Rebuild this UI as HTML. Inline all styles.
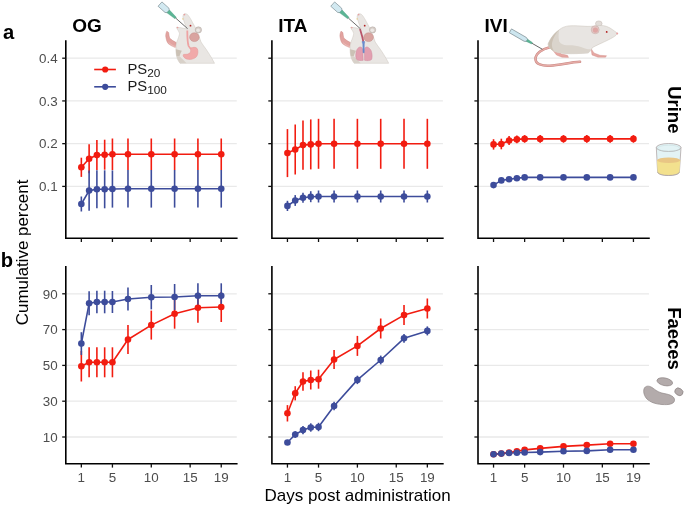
<!DOCTYPE html>
<html><head><meta charset="utf-8"><style>
html,body{margin:0;padding:0;background:#fff;}
svg{display:block;font-family:"Liberation Sans", sans-serif;will-change:transform;}
</style></head><body>
<svg width="685" height="507" viewBox="0 0 685 507">
<rect width="685" height="507" fill="#fff"/>
<line x1="65.8" y1="58.2" x2="236.78" y2="58.2" stroke="#e9e9e9" stroke-width="1.3"/>
<line x1="65.8" y1="100.93" x2="236.78" y2="100.93" stroke="#e9e9e9" stroke-width="1.3"/>
<line x1="65.8" y1="143.67" x2="236.78" y2="143.67" stroke="#e9e9e9" stroke-width="1.3"/>
<line x1="65.8" y1="186.4" x2="236.78" y2="186.4" stroke="#e9e9e9" stroke-width="1.3"/>
<line x1="81.34" y1="157.7" x2="81.34" y2="176.9" stroke="#f21c10" stroke-width="1.6"/>
<line x1="89.12" y1="144.2" x2="89.12" y2="173.2" stroke="#f21c10" stroke-width="1.6"/>
<line x1="96.89" y1="140.1" x2="96.89" y2="170.1" stroke="#f21c10" stroke-width="1.6"/>
<line x1="104.66" y1="139.7" x2="104.66" y2="169.7" stroke="#f21c10" stroke-width="1.6"/>
<line x1="112.43" y1="138.5" x2="112.43" y2="170.1" stroke="#f21c10" stroke-width="1.6"/>
<line x1="127.98" y1="138.5" x2="127.98" y2="170.1" stroke="#f21c10" stroke-width="1.6"/>
<line x1="151.29" y1="138.5" x2="151.29" y2="170.1" stroke="#f21c10" stroke-width="1.6"/>
<line x1="174.61" y1="138.5" x2="174.61" y2="170.1" stroke="#f21c10" stroke-width="1.6"/>
<line x1="197.92" y1="138.5" x2="197.92" y2="170.1" stroke="#f21c10" stroke-width="1.6"/>
<line x1="221.24" y1="138.5" x2="221.24" y2="170.1" stroke="#f21c10" stroke-width="1.6"/>
<line x1="81.34" y1="196.5" x2="81.34" y2="211.5" stroke="#3d4c9b" stroke-width="1.6"/>
<line x1="89.12" y1="170.4" x2="89.12" y2="210.8" stroke="#3d4c9b" stroke-width="1.6"/>
<line x1="96.89" y1="170.3" x2="96.89" y2="208.3" stroke="#3d4c9b" stroke-width="1.6"/>
<line x1="104.66" y1="170.3" x2="104.66" y2="208.3" stroke="#3d4c9b" stroke-width="1.6"/>
<line x1="112.43" y1="170.4" x2="112.43" y2="207.6" stroke="#3d4c9b" stroke-width="1.6"/>
<line x1="127.98" y1="170" x2="127.98" y2="207.6" stroke="#3d4c9b" stroke-width="1.6"/>
<line x1="151.29" y1="170" x2="151.29" y2="207.6" stroke="#3d4c9b" stroke-width="1.6"/>
<line x1="174.61" y1="170" x2="174.61" y2="207.6" stroke="#3d4c9b" stroke-width="1.6"/>
<line x1="197.92" y1="170" x2="197.92" y2="207.6" stroke="#3d4c9b" stroke-width="1.6"/>
<line x1="221.24" y1="170" x2="221.24" y2="207.6" stroke="#3d4c9b" stroke-width="1.6"/>
<polyline points="81.34,167.3 89.12,158.7 96.89,155.1 104.66,154.7 112.43,154.3 127.98,154.3 151.29,154.3 174.61,154.3 197.92,154.3 221.24,154.3" fill="none" stroke="#f21c10" stroke-width="1.6" stroke-linejoin="round"/>
<polyline points="81.34,204 89.12,190.6 96.89,189.3 104.66,189.3 112.43,189 127.98,188.8 151.29,188.8 174.61,188.8 197.92,188.8 221.24,188.8" fill="none" stroke="#3d4c9b" stroke-width="1.6" stroke-linejoin="round"/>
<circle cx="81.34" cy="167.3" r="3.3" fill="#f21c10"/>
<circle cx="89.12" cy="158.7" r="3.3" fill="#f21c10"/>
<circle cx="96.89" cy="155.1" r="3.3" fill="#f21c10"/>
<circle cx="104.66" cy="154.7" r="3.3" fill="#f21c10"/>
<circle cx="112.43" cy="154.3" r="3.3" fill="#f21c10"/>
<circle cx="127.98" cy="154.3" r="3.3" fill="#f21c10"/>
<circle cx="151.29" cy="154.3" r="3.3" fill="#f21c10"/>
<circle cx="174.61" cy="154.3" r="3.3" fill="#f21c10"/>
<circle cx="197.92" cy="154.3" r="3.3" fill="#f21c10"/>
<circle cx="221.24" cy="154.3" r="3.3" fill="#f21c10"/>
<circle cx="81.34" cy="204" r="3.3" fill="#3d4c9b"/>
<circle cx="89.12" cy="190.6" r="3.3" fill="#3d4c9b"/>
<circle cx="96.89" cy="189.3" r="3.3" fill="#3d4c9b"/>
<circle cx="104.66" cy="189.3" r="3.3" fill="#3d4c9b"/>
<circle cx="112.43" cy="189" r="3.3" fill="#3d4c9b"/>
<circle cx="127.98" cy="188.8" r="3.3" fill="#3d4c9b"/>
<circle cx="151.29" cy="188.8" r="3.3" fill="#3d4c9b"/>
<circle cx="174.61" cy="188.8" r="3.3" fill="#3d4c9b"/>
<circle cx="197.92" cy="188.8" r="3.3" fill="#3d4c9b"/>
<circle cx="221.24" cy="188.8" r="3.3" fill="#3d4c9b"/>
<path d="M65.8 41.1 V238.2 H236.78" fill="none" stroke="#000" stroke-width="1.6" stroke-linecap="square"/>
<line x1="62.2" y1="58.2" x2="65.8" y2="58.2" stroke="#111" stroke-width="1.3"/>
<line x1="62.2" y1="100.93" x2="65.8" y2="100.93" stroke="#111" stroke-width="1.3"/>
<line x1="62.2" y1="143.67" x2="65.8" y2="143.67" stroke="#111" stroke-width="1.3"/>
<line x1="62.2" y1="186.4" x2="65.8" y2="186.4" stroke="#111" stroke-width="1.3"/>
<line x1="81.34" y1="238.2" x2="81.34" y2="242" stroke="#111" stroke-width="1.3"/>
<line x1="112.43" y1="238.2" x2="112.43" y2="242" stroke="#111" stroke-width="1.3"/>
<line x1="151.29" y1="238.2" x2="151.29" y2="242" stroke="#111" stroke-width="1.3"/>
<line x1="190.15" y1="238.2" x2="190.15" y2="242" stroke="#111" stroke-width="1.3"/>
<line x1="221.24" y1="238.2" x2="221.24" y2="242" stroke="#111" stroke-width="1.3"/>
<line x1="271.9" y1="58.2" x2="442.88" y2="58.2" stroke="#e9e9e9" stroke-width="1.3"/>
<line x1="271.9" y1="100.93" x2="442.88" y2="100.93" stroke="#e9e9e9" stroke-width="1.3"/>
<line x1="271.9" y1="143.67" x2="442.88" y2="143.67" stroke="#e9e9e9" stroke-width="1.3"/>
<line x1="271.9" y1="186.4" x2="442.88" y2="186.4" stroke="#e9e9e9" stroke-width="1.3"/>
<line x1="287.44" y1="129.1" x2="287.44" y2="177.1" stroke="#f21c10" stroke-width="1.6"/>
<line x1="295.22" y1="124.5" x2="295.22" y2="174.5" stroke="#f21c10" stroke-width="1.6"/>
<line x1="302.99" y1="120.5" x2="302.99" y2="169.7" stroke="#f21c10" stroke-width="1.6"/>
<line x1="310.76" y1="119.4" x2="310.76" y2="169.4" stroke="#f21c10" stroke-width="1.6"/>
<line x1="318.53" y1="118.8" x2="318.53" y2="168.8" stroke="#f21c10" stroke-width="1.6"/>
<line x1="334.08" y1="118.8" x2="334.08" y2="168.8" stroke="#f21c10" stroke-width="1.6"/>
<line x1="357.39" y1="118.8" x2="357.39" y2="168.8" stroke="#f21c10" stroke-width="1.6"/>
<line x1="380.71" y1="118.8" x2="380.71" y2="168.8" stroke="#f21c10" stroke-width="1.6"/>
<line x1="404.02" y1="118.8" x2="404.02" y2="168.8" stroke="#f21c10" stroke-width="1.6"/>
<line x1="427.34" y1="118.8" x2="427.34" y2="168.8" stroke="#f21c10" stroke-width="1.6"/>
<line x1="287.44" y1="200.8" x2="287.44" y2="211" stroke="#3d4c9b" stroke-width="1.6"/>
<line x1="295.22" y1="195.1" x2="295.22" y2="205.9" stroke="#3d4c9b" stroke-width="1.6"/>
<line x1="302.99" y1="192.7" x2="302.99" y2="202.7" stroke="#3d4c9b" stroke-width="1.6"/>
<line x1="310.76" y1="191.2" x2="310.76" y2="202.2" stroke="#3d4c9b" stroke-width="1.6"/>
<line x1="318.53" y1="190.5" x2="318.53" y2="202.5" stroke="#3d4c9b" stroke-width="1.6"/>
<line x1="334.08" y1="190.5" x2="334.08" y2="202.5" stroke="#3d4c9b" stroke-width="1.6"/>
<line x1="357.39" y1="190.5" x2="357.39" y2="202.5" stroke="#3d4c9b" stroke-width="1.6"/>
<line x1="380.71" y1="190.5" x2="380.71" y2="202.5" stroke="#3d4c9b" stroke-width="1.6"/>
<line x1="404.02" y1="190.5" x2="404.02" y2="202.5" stroke="#3d4c9b" stroke-width="1.6"/>
<line x1="427.34" y1="190.5" x2="427.34" y2="202.5" stroke="#3d4c9b" stroke-width="1.6"/>
<polyline points="287.44,153.1 295.22,149.5 302.99,145.1 310.76,144.4 318.53,143.8 334.08,143.8 357.39,143.8 380.71,143.8 404.02,143.8 427.34,143.8" fill="none" stroke="#f21c10" stroke-width="1.6" stroke-linejoin="round"/>
<polyline points="287.44,205.9 295.22,200.5 302.99,197.7 310.76,196.7 318.53,196.5 334.08,196.5 357.39,196.5 380.71,196.5 404.02,196.5 427.34,196.5" fill="none" stroke="#3d4c9b" stroke-width="1.6" stroke-linejoin="round"/>
<circle cx="287.44" cy="153.1" r="3.3" fill="#f21c10"/>
<circle cx="295.22" cy="149.5" r="3.3" fill="#f21c10"/>
<circle cx="302.99" cy="145.1" r="3.3" fill="#f21c10"/>
<circle cx="310.76" cy="144.4" r="3.3" fill="#f21c10"/>
<circle cx="318.53" cy="143.8" r="3.3" fill="#f21c10"/>
<circle cx="334.08" cy="143.8" r="3.3" fill="#f21c10"/>
<circle cx="357.39" cy="143.8" r="3.3" fill="#f21c10"/>
<circle cx="380.71" cy="143.8" r="3.3" fill="#f21c10"/>
<circle cx="404.02" cy="143.8" r="3.3" fill="#f21c10"/>
<circle cx="427.34" cy="143.8" r="3.3" fill="#f21c10"/>
<circle cx="287.44" cy="205.9" r="3.3" fill="#3d4c9b"/>
<circle cx="295.22" cy="200.5" r="3.3" fill="#3d4c9b"/>
<circle cx="302.99" cy="197.7" r="3.3" fill="#3d4c9b"/>
<circle cx="310.76" cy="196.7" r="3.3" fill="#3d4c9b"/>
<circle cx="318.53" cy="196.5" r="3.3" fill="#3d4c9b"/>
<circle cx="334.08" cy="196.5" r="3.3" fill="#3d4c9b"/>
<circle cx="357.39" cy="196.5" r="3.3" fill="#3d4c9b"/>
<circle cx="380.71" cy="196.5" r="3.3" fill="#3d4c9b"/>
<circle cx="404.02" cy="196.5" r="3.3" fill="#3d4c9b"/>
<circle cx="427.34" cy="196.5" r="3.3" fill="#3d4c9b"/>
<path d="M271.9 41.1 V238.2 H442.88" fill="none" stroke="#000" stroke-width="1.6" stroke-linecap="square"/>
<line x1="268.3" y1="58.2" x2="271.9" y2="58.2" stroke="#111" stroke-width="1.3"/>
<line x1="268.3" y1="100.93" x2="271.9" y2="100.93" stroke="#111" stroke-width="1.3"/>
<line x1="268.3" y1="143.67" x2="271.9" y2="143.67" stroke="#111" stroke-width="1.3"/>
<line x1="268.3" y1="186.4" x2="271.9" y2="186.4" stroke="#111" stroke-width="1.3"/>
<line x1="287.44" y1="238.2" x2="287.44" y2="242" stroke="#111" stroke-width="1.3"/>
<line x1="318.53" y1="238.2" x2="318.53" y2="242" stroke="#111" stroke-width="1.3"/>
<line x1="357.39" y1="238.2" x2="357.39" y2="242" stroke="#111" stroke-width="1.3"/>
<line x1="396.25" y1="238.2" x2="396.25" y2="242" stroke="#111" stroke-width="1.3"/>
<line x1="427.34" y1="238.2" x2="427.34" y2="242" stroke="#111" stroke-width="1.3"/>
<line x1="478" y1="58.2" x2="648.98" y2="58.2" stroke="#e9e9e9" stroke-width="1.3"/>
<line x1="478" y1="100.93" x2="648.98" y2="100.93" stroke="#e9e9e9" stroke-width="1.3"/>
<line x1="478" y1="143.67" x2="648.98" y2="143.67" stroke="#e9e9e9" stroke-width="1.3"/>
<line x1="478" y1="186.4" x2="648.98" y2="186.4" stroke="#e9e9e9" stroke-width="1.3"/>
<line x1="493.54" y1="139.2" x2="493.54" y2="149.6" stroke="#f21c10" stroke-width="1.6"/>
<line x1="501.32" y1="138.7" x2="501.32" y2="149.3" stroke="#f21c10" stroke-width="1.6"/>
<line x1="509.09" y1="136" x2="509.09" y2="145" stroke="#f21c10" stroke-width="1.6"/>
<line x1="516.86" y1="135.6" x2="516.86" y2="143.2" stroke="#f21c10" stroke-width="1.6"/>
<line x1="524.63" y1="135.1" x2="524.63" y2="142.7" stroke="#f21c10" stroke-width="1.6"/>
<line x1="540.18" y1="135.1" x2="540.18" y2="142.7" stroke="#f21c10" stroke-width="1.6"/>
<line x1="563.49" y1="135.1" x2="563.49" y2="142.7" stroke="#f21c10" stroke-width="1.6"/>
<line x1="586.81" y1="135.1" x2="586.81" y2="142.7" stroke="#f21c10" stroke-width="1.6"/>
<line x1="610.12" y1="135.1" x2="610.12" y2="142.7" stroke="#f21c10" stroke-width="1.6"/>
<line x1="633.44" y1="135.1" x2="633.44" y2="142.7" stroke="#f21c10" stroke-width="1.6"/>
<polyline points="493.54,144.4 501.32,144 509.09,140.5 516.86,139.4 524.63,138.9 540.18,138.9 563.49,138.9 586.81,138.9 610.12,138.9 633.44,138.9" fill="none" stroke="#f21c10" stroke-width="1.6" stroke-linejoin="round"/>
<polyline points="493.54,185.1 501.32,180.4 509.09,179.3 516.86,178.2 524.63,177.4 540.18,177.4 563.49,177.4 586.81,177.4 610.12,177.4 633.44,177.4" fill="none" stroke="#3d4c9b" stroke-width="1.6" stroke-linejoin="round"/>
<circle cx="493.54" cy="144.4" r="3.3" fill="#f21c10"/>
<circle cx="501.32" cy="144" r="3.3" fill="#f21c10"/>
<circle cx="509.09" cy="140.5" r="3.3" fill="#f21c10"/>
<circle cx="516.86" cy="139.4" r="3.3" fill="#f21c10"/>
<circle cx="524.63" cy="138.9" r="3.3" fill="#f21c10"/>
<circle cx="540.18" cy="138.9" r="3.3" fill="#f21c10"/>
<circle cx="563.49" cy="138.9" r="3.3" fill="#f21c10"/>
<circle cx="586.81" cy="138.9" r="3.3" fill="#f21c10"/>
<circle cx="610.12" cy="138.9" r="3.3" fill="#f21c10"/>
<circle cx="633.44" cy="138.9" r="3.3" fill="#f21c10"/>
<circle cx="493.54" cy="185.1" r="3.3" fill="#3d4c9b"/>
<circle cx="501.32" cy="180.4" r="3.3" fill="#3d4c9b"/>
<circle cx="509.09" cy="179.3" r="3.3" fill="#3d4c9b"/>
<circle cx="516.86" cy="178.2" r="3.3" fill="#3d4c9b"/>
<circle cx="524.63" cy="177.4" r="3.3" fill="#3d4c9b"/>
<circle cx="540.18" cy="177.4" r="3.3" fill="#3d4c9b"/>
<circle cx="563.49" cy="177.4" r="3.3" fill="#3d4c9b"/>
<circle cx="586.81" cy="177.4" r="3.3" fill="#3d4c9b"/>
<circle cx="610.12" cy="177.4" r="3.3" fill="#3d4c9b"/>
<circle cx="633.44" cy="177.4" r="3.3" fill="#3d4c9b"/>
<path d="M478 41.1 V238.2 H648.98" fill="none" stroke="#000" stroke-width="1.6" stroke-linecap="square"/>
<line x1="474.4" y1="58.2" x2="478" y2="58.2" stroke="#111" stroke-width="1.3"/>
<line x1="474.4" y1="100.93" x2="478" y2="100.93" stroke="#111" stroke-width="1.3"/>
<line x1="474.4" y1="143.67" x2="478" y2="143.67" stroke="#111" stroke-width="1.3"/>
<line x1="474.4" y1="186.4" x2="478" y2="186.4" stroke="#111" stroke-width="1.3"/>
<line x1="493.54" y1="238.2" x2="493.54" y2="242" stroke="#111" stroke-width="1.3"/>
<line x1="524.63" y1="238.2" x2="524.63" y2="242" stroke="#111" stroke-width="1.3"/>
<line x1="563.49" y1="238.2" x2="563.49" y2="242" stroke="#111" stroke-width="1.3"/>
<line x1="602.35" y1="238.2" x2="602.35" y2="242" stroke="#111" stroke-width="1.3"/>
<line x1="633.44" y1="238.2" x2="633.44" y2="242" stroke="#111" stroke-width="1.3"/>
<text x="57.7" y="62.95" font-size="13.4" fill="#4d4d4d" text-anchor="end">0.4</text>
<text x="57.7" y="105.68" font-size="13.4" fill="#4d4d4d" text-anchor="end">0.3</text>
<text x="57.7" y="148.42" font-size="13.4" fill="#4d4d4d" text-anchor="end">0.2</text>
<text x="57.7" y="191.15" font-size="13.4" fill="#4d4d4d" text-anchor="end">0.1</text>
<line x1="65.8" y1="293.8" x2="236.78" y2="293.8" stroke="#e9e9e9" stroke-width="1.3"/>
<line x1="65.8" y1="329.6" x2="236.78" y2="329.6" stroke="#e9e9e9" stroke-width="1.3"/>
<line x1="65.8" y1="365.4" x2="236.78" y2="365.4" stroke="#e9e9e9" stroke-width="1.3"/>
<line x1="65.8" y1="401.2" x2="236.78" y2="401.2" stroke="#e9e9e9" stroke-width="1.3"/>
<line x1="65.8" y1="437" x2="236.78" y2="437" stroke="#e9e9e9" stroke-width="1.3"/>
<line x1="81.34" y1="350.9" x2="81.34" y2="381.5" stroke="#f21c10" stroke-width="1.6"/>
<line x1="89.12" y1="347.3" x2="89.12" y2="377.3" stroke="#f21c10" stroke-width="1.6"/>
<line x1="96.89" y1="347.3" x2="96.89" y2="377.3" stroke="#f21c10" stroke-width="1.6"/>
<line x1="104.66" y1="347.3" x2="104.66" y2="377.3" stroke="#f21c10" stroke-width="1.6"/>
<line x1="112.43" y1="347.3" x2="112.43" y2="377.3" stroke="#f21c10" stroke-width="1.6"/>
<line x1="127.98" y1="325" x2="127.98" y2="354" stroke="#f21c10" stroke-width="1.6"/>
<line x1="151.29" y1="310.6" x2="151.29" y2="339.6" stroke="#f21c10" stroke-width="1.6"/>
<line x1="174.61" y1="298.7" x2="174.61" y2="328.7" stroke="#f21c10" stroke-width="1.6"/>
<line x1="197.92" y1="292.7" x2="197.92" y2="322.7" stroke="#f21c10" stroke-width="1.6"/>
<line x1="221.24" y1="292" x2="221.24" y2="322" stroke="#f21c10" stroke-width="1.6"/>
<line x1="81.34" y1="332.2" x2="81.34" y2="355" stroke="#3d4c9b" stroke-width="1.6"/>
<line x1="89.12" y1="291.3" x2="89.12" y2="315.3" stroke="#3d4c9b" stroke-width="1.6"/>
<line x1="96.89" y1="290.7" x2="96.89" y2="313.3" stroke="#3d4c9b" stroke-width="1.6"/>
<line x1="104.66" y1="290.7" x2="104.66" y2="313.3" stroke="#3d4c9b" stroke-width="1.6"/>
<line x1="112.43" y1="291" x2="112.43" y2="313" stroke="#3d4c9b" stroke-width="1.6"/>
<line x1="127.98" y1="287.4" x2="127.98" y2="310.6" stroke="#3d4c9b" stroke-width="1.6"/>
<line x1="151.29" y1="285" x2="151.29" y2="309.4" stroke="#3d4c9b" stroke-width="1.6"/>
<line x1="174.61" y1="284" x2="174.61" y2="310" stroke="#3d4c9b" stroke-width="1.6"/>
<line x1="197.92" y1="283.3" x2="197.92" y2="308.3" stroke="#3d4c9b" stroke-width="1.6"/>
<line x1="221.24" y1="283.3" x2="221.24" y2="308.3" stroke="#3d4c9b" stroke-width="1.6"/>
<polyline points="81.34,366.2 89.12,362.3 96.89,362.3 104.66,362.3 112.43,362.3 127.98,339.5 151.29,325.1 174.61,313.7 197.92,307.7 221.24,307" fill="none" stroke="#f21c10" stroke-width="1.6" stroke-linejoin="round"/>
<polyline points="81.34,343.6 89.12,303.3 96.89,302 104.66,302 112.43,302 127.98,299 151.29,297.2 174.61,297 197.92,295.8 221.24,295.8" fill="none" stroke="#3d4c9b" stroke-width="1.6" stroke-linejoin="round"/>
<circle cx="81.34" cy="366.2" r="3.3" fill="#f21c10"/>
<circle cx="89.12" cy="362.3" r="3.3" fill="#f21c10"/>
<circle cx="96.89" cy="362.3" r="3.3" fill="#f21c10"/>
<circle cx="104.66" cy="362.3" r="3.3" fill="#f21c10"/>
<circle cx="112.43" cy="362.3" r="3.3" fill="#f21c10"/>
<circle cx="127.98" cy="339.5" r="3.3" fill="#f21c10"/>
<circle cx="151.29" cy="325.1" r="3.3" fill="#f21c10"/>
<circle cx="174.61" cy="313.7" r="3.3" fill="#f21c10"/>
<circle cx="197.92" cy="307.7" r="3.3" fill="#f21c10"/>
<circle cx="221.24" cy="307" r="3.3" fill="#f21c10"/>
<circle cx="81.34" cy="343.6" r="3.3" fill="#3d4c9b"/>
<circle cx="89.12" cy="303.3" r="3.3" fill="#3d4c9b"/>
<circle cx="96.89" cy="302" r="3.3" fill="#3d4c9b"/>
<circle cx="104.66" cy="302" r="3.3" fill="#3d4c9b"/>
<circle cx="112.43" cy="302" r="3.3" fill="#3d4c9b"/>
<circle cx="127.98" cy="299" r="3.3" fill="#3d4c9b"/>
<circle cx="151.29" cy="297.2" r="3.3" fill="#3d4c9b"/>
<circle cx="174.61" cy="297" r="3.3" fill="#3d4c9b"/>
<circle cx="197.92" cy="295.8" r="3.3" fill="#3d4c9b"/>
<circle cx="221.24" cy="295.8" r="3.3" fill="#3d4c9b"/>
<path d="M65.8 266.8 V463.8 H236.78" fill="none" stroke="#000" stroke-width="1.6" stroke-linecap="square"/>
<line x1="62.2" y1="293.8" x2="65.8" y2="293.8" stroke="#111" stroke-width="1.3"/>
<line x1="62.2" y1="329.6" x2="65.8" y2="329.6" stroke="#111" stroke-width="1.3"/>
<line x1="62.2" y1="365.4" x2="65.8" y2="365.4" stroke="#111" stroke-width="1.3"/>
<line x1="62.2" y1="401.2" x2="65.8" y2="401.2" stroke="#111" stroke-width="1.3"/>
<line x1="62.2" y1="437" x2="65.8" y2="437" stroke="#111" stroke-width="1.3"/>
<line x1="81.34" y1="463.8" x2="81.34" y2="467.6" stroke="#111" stroke-width="1.3"/>
<line x1="112.43" y1="463.8" x2="112.43" y2="467.6" stroke="#111" stroke-width="1.3"/>
<line x1="151.29" y1="463.8" x2="151.29" y2="467.6" stroke="#111" stroke-width="1.3"/>
<line x1="190.15" y1="463.8" x2="190.15" y2="467.6" stroke="#111" stroke-width="1.3"/>
<line x1="221.24" y1="463.8" x2="221.24" y2="467.6" stroke="#111" stroke-width="1.3"/>
<text x="81.34" y="481.7" font-size="13.4" fill="#4d4d4d" text-anchor="middle">1</text>
<text x="112.43" y="481.7" font-size="13.4" fill="#4d4d4d" text-anchor="middle">5</text>
<text x="151.29" y="481.7" font-size="13.4" fill="#4d4d4d" text-anchor="middle">10</text>
<text x="190.15" y="481.7" font-size="13.4" fill="#4d4d4d" text-anchor="middle">15</text>
<text x="221.24" y="481.7" font-size="13.4" fill="#4d4d4d" text-anchor="middle">19</text>
<line x1="271.9" y1="293.8" x2="442.88" y2="293.8" stroke="#e9e9e9" stroke-width="1.3"/>
<line x1="271.9" y1="329.6" x2="442.88" y2="329.6" stroke="#e9e9e9" stroke-width="1.3"/>
<line x1="271.9" y1="365.4" x2="442.88" y2="365.4" stroke="#e9e9e9" stroke-width="1.3"/>
<line x1="271.9" y1="401.2" x2="442.88" y2="401.2" stroke="#e9e9e9" stroke-width="1.3"/>
<line x1="271.9" y1="437" x2="442.88" y2="437" stroke="#e9e9e9" stroke-width="1.3"/>
<line x1="287.44" y1="405.1" x2="287.44" y2="421.5" stroke="#f21c10" stroke-width="1.6"/>
<line x1="295.22" y1="386.2" x2="295.22" y2="400.4" stroke="#f21c10" stroke-width="1.6"/>
<line x1="302.99" y1="372.3" x2="302.99" y2="390.7" stroke="#f21c10" stroke-width="1.6"/>
<line x1="310.76" y1="370.5" x2="310.76" y2="389.5" stroke="#f21c10" stroke-width="1.6"/>
<line x1="318.53" y1="369.7" x2="318.53" y2="388.7" stroke="#f21c10" stroke-width="1.6"/>
<line x1="334.08" y1="350" x2="334.08" y2="369" stroke="#f21c10" stroke-width="1.6"/>
<line x1="357.39" y1="335.9" x2="357.39" y2="355.9" stroke="#f21c10" stroke-width="1.6"/>
<line x1="380.71" y1="318.5" x2="380.71" y2="338.5" stroke="#f21c10" stroke-width="1.6"/>
<line x1="404.02" y1="305.1" x2="404.02" y2="325.1" stroke="#f21c10" stroke-width="1.6"/>
<line x1="427.34" y1="298.5" x2="427.34" y2="318.5" stroke="#f21c10" stroke-width="1.6"/>
<line x1="295.22" y1="431.2" x2="295.22" y2="437.8" stroke="#3d4c9b" stroke-width="1.6"/>
<line x1="302.99" y1="425.9" x2="302.99" y2="434.3" stroke="#3d4c9b" stroke-width="1.6"/>
<line x1="310.76" y1="423.3" x2="310.76" y2="431.7" stroke="#3d4c9b" stroke-width="1.6"/>
<line x1="318.53" y1="422.8" x2="318.53" y2="431.2" stroke="#3d4c9b" stroke-width="1.6"/>
<line x1="334.08" y1="401.7" x2="334.08" y2="410.3" stroke="#3d4c9b" stroke-width="1.6"/>
<line x1="357.39" y1="375.7" x2="357.39" y2="384.1" stroke="#3d4c9b" stroke-width="1.6"/>
<line x1="380.71" y1="355.6" x2="380.71" y2="364.4" stroke="#3d4c9b" stroke-width="1.6"/>
<line x1="404.02" y1="333.9" x2="404.02" y2="342.7" stroke="#3d4c9b" stroke-width="1.6"/>
<line x1="427.34" y1="326.4" x2="427.34" y2="335.4" stroke="#3d4c9b" stroke-width="1.6"/>
<polyline points="287.44,413.3 295.22,393.3 302.99,381.5 310.76,380 318.53,379.2 334.08,359.5 357.39,345.9 380.71,328.5 404.02,315.1 427.34,308.5" fill="none" stroke="#f21c10" stroke-width="1.6" stroke-linejoin="round"/>
<polyline points="287.44,442.5 295.22,434.5 302.99,430.1 310.76,427.5 318.53,427 334.08,406 357.39,379.9 380.71,360 404.02,338.3 427.34,330.9" fill="none" stroke="#3d4c9b" stroke-width="1.6" stroke-linejoin="round"/>
<circle cx="287.44" cy="413.3" r="3.3" fill="#f21c10"/>
<circle cx="295.22" cy="393.3" r="3.3" fill="#f21c10"/>
<circle cx="302.99" cy="381.5" r="3.3" fill="#f21c10"/>
<circle cx="310.76" cy="380" r="3.3" fill="#f21c10"/>
<circle cx="318.53" cy="379.2" r="3.3" fill="#f21c10"/>
<circle cx="334.08" cy="359.5" r="3.3" fill="#f21c10"/>
<circle cx="357.39" cy="345.9" r="3.3" fill="#f21c10"/>
<circle cx="380.71" cy="328.5" r="3.3" fill="#f21c10"/>
<circle cx="404.02" cy="315.1" r="3.3" fill="#f21c10"/>
<circle cx="427.34" cy="308.5" r="3.3" fill="#f21c10"/>
<circle cx="287.44" cy="442.5" r="3.3" fill="#3d4c9b"/>
<circle cx="295.22" cy="434.5" r="3.3" fill="#3d4c9b"/>
<circle cx="302.99" cy="430.1" r="3.3" fill="#3d4c9b"/>
<circle cx="310.76" cy="427.5" r="3.3" fill="#3d4c9b"/>
<circle cx="318.53" cy="427" r="3.3" fill="#3d4c9b"/>
<circle cx="334.08" cy="406" r="3.3" fill="#3d4c9b"/>
<circle cx="357.39" cy="379.9" r="3.3" fill="#3d4c9b"/>
<circle cx="380.71" cy="360" r="3.3" fill="#3d4c9b"/>
<circle cx="404.02" cy="338.3" r="3.3" fill="#3d4c9b"/>
<circle cx="427.34" cy="330.9" r="3.3" fill="#3d4c9b"/>
<path d="M271.9 266.8 V463.8 H442.88" fill="none" stroke="#000" stroke-width="1.6" stroke-linecap="square"/>
<line x1="268.3" y1="293.8" x2="271.9" y2="293.8" stroke="#111" stroke-width="1.3"/>
<line x1="268.3" y1="329.6" x2="271.9" y2="329.6" stroke="#111" stroke-width="1.3"/>
<line x1="268.3" y1="365.4" x2="271.9" y2="365.4" stroke="#111" stroke-width="1.3"/>
<line x1="268.3" y1="401.2" x2="271.9" y2="401.2" stroke="#111" stroke-width="1.3"/>
<line x1="268.3" y1="437" x2="271.9" y2="437" stroke="#111" stroke-width="1.3"/>
<line x1="287.44" y1="463.8" x2="287.44" y2="467.6" stroke="#111" stroke-width="1.3"/>
<line x1="318.53" y1="463.8" x2="318.53" y2="467.6" stroke="#111" stroke-width="1.3"/>
<line x1="357.39" y1="463.8" x2="357.39" y2="467.6" stroke="#111" stroke-width="1.3"/>
<line x1="396.25" y1="463.8" x2="396.25" y2="467.6" stroke="#111" stroke-width="1.3"/>
<line x1="427.34" y1="463.8" x2="427.34" y2="467.6" stroke="#111" stroke-width="1.3"/>
<text x="287.44" y="481.7" font-size="13.4" fill="#4d4d4d" text-anchor="middle">1</text>
<text x="318.53" y="481.7" font-size="13.4" fill="#4d4d4d" text-anchor="middle">5</text>
<text x="357.39" y="481.7" font-size="13.4" fill="#4d4d4d" text-anchor="middle">10</text>
<text x="396.25" y="481.7" font-size="13.4" fill="#4d4d4d" text-anchor="middle">15</text>
<text x="427.34" y="481.7" font-size="13.4" fill="#4d4d4d" text-anchor="middle">19</text>
<line x1="478" y1="293.8" x2="648.98" y2="293.8" stroke="#e9e9e9" stroke-width="1.3"/>
<line x1="478" y1="329.6" x2="648.98" y2="329.6" stroke="#e9e9e9" stroke-width="1.3"/>
<line x1="478" y1="365.4" x2="648.98" y2="365.4" stroke="#e9e9e9" stroke-width="1.3"/>
<line x1="478" y1="401.2" x2="648.98" y2="401.2" stroke="#e9e9e9" stroke-width="1.3"/>
<line x1="478" y1="437" x2="648.98" y2="437" stroke="#e9e9e9" stroke-width="1.3"/>
<polyline points="493.54,454.3 501.32,453.6 509.09,452.5 516.86,451.3 524.63,449.9 540.18,448.4 563.49,446.4 586.81,445.1 610.12,443.8 633.44,443.8" fill="none" stroke="#f21c10" stroke-width="1.6" stroke-linejoin="round"/>
<polyline points="493.54,454.2 501.32,453.6 509.09,453 516.86,452.7 524.63,452.5 540.18,452.1 563.49,451.3 586.81,450.9 610.12,449.7 633.44,449.7" fill="none" stroke="#3d4c9b" stroke-width="1.6" stroke-linejoin="round"/>
<circle cx="493.54" cy="454.3" r="3.3" fill="#f21c10"/>
<circle cx="501.32" cy="453.6" r="3.3" fill="#f21c10"/>
<circle cx="509.09" cy="452.5" r="3.3" fill="#f21c10"/>
<circle cx="516.86" cy="451.3" r="3.3" fill="#f21c10"/>
<circle cx="524.63" cy="449.9" r="3.3" fill="#f21c10"/>
<circle cx="540.18" cy="448.4" r="3.3" fill="#f21c10"/>
<circle cx="563.49" cy="446.4" r="3.3" fill="#f21c10"/>
<circle cx="586.81" cy="445.1" r="3.3" fill="#f21c10"/>
<circle cx="610.12" cy="443.8" r="3.3" fill="#f21c10"/>
<circle cx="633.44" cy="443.8" r="3.3" fill="#f21c10"/>
<circle cx="493.54" cy="454.2" r="3.3" fill="#3d4c9b"/>
<circle cx="501.32" cy="453.6" r="3.3" fill="#3d4c9b"/>
<circle cx="509.09" cy="453" r="3.3" fill="#3d4c9b"/>
<circle cx="516.86" cy="452.7" r="3.3" fill="#3d4c9b"/>
<circle cx="524.63" cy="452.5" r="3.3" fill="#3d4c9b"/>
<circle cx="540.18" cy="452.1" r="3.3" fill="#3d4c9b"/>
<circle cx="563.49" cy="451.3" r="3.3" fill="#3d4c9b"/>
<circle cx="586.81" cy="450.9" r="3.3" fill="#3d4c9b"/>
<circle cx="610.12" cy="449.7" r="3.3" fill="#3d4c9b"/>
<circle cx="633.44" cy="449.7" r="3.3" fill="#3d4c9b"/>
<path d="M478 266.8 V463.8 H648.98" fill="none" stroke="#000" stroke-width="1.6" stroke-linecap="square"/>
<line x1="474.4" y1="293.8" x2="478" y2="293.8" stroke="#111" stroke-width="1.3"/>
<line x1="474.4" y1="329.6" x2="478" y2="329.6" stroke="#111" stroke-width="1.3"/>
<line x1="474.4" y1="365.4" x2="478" y2="365.4" stroke="#111" stroke-width="1.3"/>
<line x1="474.4" y1="401.2" x2="478" y2="401.2" stroke="#111" stroke-width="1.3"/>
<line x1="474.4" y1="437" x2="478" y2="437" stroke="#111" stroke-width="1.3"/>
<line x1="493.54" y1="463.8" x2="493.54" y2="467.6" stroke="#111" stroke-width="1.3"/>
<line x1="524.63" y1="463.8" x2="524.63" y2="467.6" stroke="#111" stroke-width="1.3"/>
<line x1="563.49" y1="463.8" x2="563.49" y2="467.6" stroke="#111" stroke-width="1.3"/>
<line x1="602.35" y1="463.8" x2="602.35" y2="467.6" stroke="#111" stroke-width="1.3"/>
<line x1="633.44" y1="463.8" x2="633.44" y2="467.6" stroke="#111" stroke-width="1.3"/>
<text x="493.54" y="481.7" font-size="13.4" fill="#4d4d4d" text-anchor="middle">1</text>
<text x="524.63" y="481.7" font-size="13.4" fill="#4d4d4d" text-anchor="middle">5</text>
<text x="563.49" y="481.7" font-size="13.4" fill="#4d4d4d" text-anchor="middle">10</text>
<text x="602.35" y="481.7" font-size="13.4" fill="#4d4d4d" text-anchor="middle">15</text>
<text x="633.44" y="481.7" font-size="13.4" fill="#4d4d4d" text-anchor="middle">19</text>
<text x="57.7" y="298.55" font-size="13.4" fill="#4d4d4d" text-anchor="end">90</text>
<text x="57.7" y="334.35" font-size="13.4" fill="#4d4d4d" text-anchor="end">70</text>
<text x="57.7" y="370.15" font-size="13.4" fill="#4d4d4d" text-anchor="end">50</text>
<text x="57.7" y="405.95" font-size="13.4" fill="#4d4d4d" text-anchor="end">30</text>
<text x="57.7" y="441.75" font-size="13.4" fill="#4d4d4d" text-anchor="end">10</text>
<text x="72.2" y="32" font-size="19" font-weight="bold" fill="#000">OG</text>
<text x="278.3" y="32" font-size="19" font-weight="bold" fill="#000">ITA</text>
<text x="484.5" y="32" font-size="19" font-weight="bold" fill="#000">IVI</text>
<text x="2.9" y="39" font-size="20.2" font-weight="bold" fill="#000">a</text>
<text x="0.7" y="266.9" font-size="20.2" font-weight="bold" fill="#000">b</text>
<text x="357.6" y="501.3" font-size="17" fill="#000" text-anchor="middle">Days post administration</text>
<text transform="translate(28.1 252.4) rotate(-90)" x="0" y="0" font-size="16.9" fill="#000" text-anchor="middle">Cumulative percent</text>
<text transform="translate(668 109.8) rotate(90)" x="0" y="0" font-size="18.5" font-weight="bold" fill="#000" text-anchor="middle">Urine</text>
<text transform="translate(668 338.5) rotate(90)" x="0" y="0" font-size="18.5" font-weight="bold" fill="#000" text-anchor="middle">Faeces</text>
<line x1="94.2" y1="69.5" x2="115.9" y2="69.5" stroke="#f21c10" stroke-width="1.6"/>
<circle cx="105.2" cy="69.5" r="3.1" fill="#f21c10"/>
<line x1="94.2" y1="86.8" x2="115.9" y2="86.8" stroke="#3d4c9b" stroke-width="1.6"/>
<circle cx="105.2" cy="86.8" r="3.1" fill="#3d4c9b"/>
<text x="127.5" y="73.6" font-size="14.8" fill="#1a1a1a">PS<tspan font-size="11.8" dy="2.9">20</tspan></text>
<text x="127.5" y="90.9" font-size="14.8" fill="#1a1a1a">PS<tspan font-size="11.8" dy="2.9">100</tspan></text>
<defs>
<g id="mbody">
<path d="M166.8 31.2 C165.7 33.5,165.6 35.5,165.9 37.2 C166.4 40,167 42,168.2 43.6 C170.5 45.5,172.8 46.5,175.3 47.4 L176.3 42.6 C174 41.5,171.5 40,169.6 38.1 C169 36,168.9 34.3,168.7 32.6 Z" fill="#e2a3a0" stroke="#cf8b87" stroke-width="0.5"/>
<path d="M183.4 14.6 C184.3 13.2,186.6 13.3,188.3 15.4 C190 17.6,191.3 20,192.4 22.2 C193.3 23.8,194.2 25.4,195 27 L198.2 34.3 C199.3 37,200.2 39.5,201 42 C202.8 44.8,204.6 47.3,206.5 49.8 C208.5 52.8,210.3 55.7,212 58.6 C212.8 60,213.6 61.5,214.5 63.3 L180 63.3 C178.3 61,177 58.5,176.6 56 C176 53.5,175.8 51,175.9 49 C176 46.5,176.3 44,176.8 41.8 C177.5 40,178.3 38.5,178.6 37.2 C179.2 35.5,179.3 34.5,179.5 33.6 C179 32,178.3 30.5,177.7 30 C177.2 29,176.6 28,176.3 27.3 C179.5 27.4,183 28,187 29 C185.5 25.5,184 22,183.1 18.5 C182.8 17,182.9 15.6,183.4 14.6 Z" fill="#e9e6e3" stroke="#cdc6bf" stroke-width="0.5"/>
<path d="M175.95 49.2 C178 49.8,180 50.3,181.8 50.8 C180.8 52.8,180 54.5,179.5 56.3 C178.5 56.2,177.4 56.1,176.6 56 C176.1 53.5,175.9 51,175.95 49.2 Z" fill="#cbc1b5"/><path d="M179.5 56.3 C182 58.5,184.5 60.8,186.5 63.2 L180 63.3 C178.3 61,177 58.5,176.6 56 Z" fill="#d8d1c9"/>
<path d="M168.6 42.4 C170.5 44.4,172.8 45.8,175.6 46.6" stroke="#efc4c0" stroke-width="0.7" fill="none"/>
<ellipse cx="198.4" cy="29.9" rx="3.2" ry="3.1" fill="#d6cdc8" stroke="#b3a8a2" stroke-width="0.5"/>
<ellipse cx="198.1" cy="30.2" rx="1.8" ry="1.7" fill="#ece8e5"/>
<ellipse cx="194.4" cy="37.2" rx="4.8" ry="4.4" fill="#d9a4a0" stroke="#c48c89" stroke-width="0.5"/>
<circle cx="190.5" cy="25.7" r="0.9" fill="#b02020"/>
<circle cx="184.4" cy="14.6" r="0.9" fill="#e8a0a0"/>
<circle cx="177.6" cy="27.6" r="0.8" fill="#e8a0a0"/>
<circle cx="182.9" cy="18.9" r="0.6" fill="#e8c060"/>
</g>
<g id="syr">
<path d="M0 -2.9 L9.3 -2.9 L11 -1.7 L11 1.7 L9.3 2.9 L0 2.9 Z" fill="#d2e9f1" stroke="#75858c" stroke-width="0.6"/>
<path d="M11 -1.9 L21 -1 L21 1 L11 1.9 Z" fill="#5bb595" stroke="#3f9075" stroke-width="0.3"/>
<line x1="21" y1="0" x2="37" y2="0" stroke="#555" stroke-width="0.8"/>
</g>
</defs>
<!-- mouse 1 -->
<use href="#mbody"/>
<path d="M187.3 30.5 C187.3 37,187.6 43,188.6 46 C189.2 47.5,190.5 48.5,192 48.6" stroke="#eea3a3" stroke-width="1.8" fill="none"/>
<path d="M190.5 48.8 C192 47.2,195.5 46.6,197.2 48.6 C198.4 50.6,198.1 54.6,196.6 56.6 C194.8 58.8,191 59.8,188 59.3 C185.8 59,184 57.8,183.2 56 C183 55,183.3 54.2,184.2 54.3 C186.2 54.4,189 54.3,190.2 52.6 C190.9 51.3,190.6 49.8,190.5 48.8 Z" fill="#f1a9a9" stroke="#e29494" stroke-width="0.5"/>
<g transform="translate(160 4.1) rotate(41.7)"><use href="#syr"/></g>
<!-- mouse 2 -->
<g transform="translate(174.2 0)"><use href="#mbody"/></g>
<path d="M360 29 C361.2 33,362.6 37,363.3 41.6" stroke="#b9566a" stroke-width="1.8" fill="none"/>
<path d="M359.8 47 C361.5 46.6,362.6 48,362.8 50.5 L363.2 60.3 C361 60.9,357.5 60.6,356.3 59 C355.5 57,355.6 53,356.6 50.5 C357.3 48.8,358.4 47.4,359.8 47 Z" fill="#e29fb0" stroke="#cf8b9c" stroke-width="0.5"/>
<path d="M367.2 47 C365.5 46.6,364.6 48,364.5 50.5 L364.6 60.3 C366.8 60.9,370.5 60.9,371.7 59.3 C372.4 57,372.2 53,371 50.5 C370 48.8,368.6 47.4,367.2 47 Z" fill="#e29fb0" stroke="#cf8b9c" stroke-width="0.5"/>
<path d="M362 41.6 L364.8 41.6 L364.3 44 L364.2 52.8 L363 52.8 L362.8 44 Z" fill="#6b8fd2" stroke="#5677bd" stroke-width="0.4"/>
<g transform="translate(332.7 4.1) rotate(41.7)"><use href="#syr"/></g>
<!-- mouse 3 -->
<path d="M549 47.5 C543 49,535.5 53,535.5 59 C535.5 64,542 66.2,550 65.7 C560 65.2,570 62.3,580 61.8" stroke="#c98883" stroke-width="2.6" fill="none" stroke-linecap="round"/>
<path d="M549 47.5 C543 49,535.5 53,535.5 59 C535.5 64,542 66.2,550 65.7 C560 65.2,570 62.3,580 61.8" stroke="#e6aca7" stroke-width="1.4" fill="none" stroke-linecap="round"/>
<path d="M553 50.5 L556.5 55 L562 57.2 L568.5 57.4 L567.5 55.3 L561.5 54 L557.5 50.5 Z" fill="#e6a7a2" stroke="#cf8c86" stroke-width="0.4"/>
<path d="M591 48.5 L594 53 L600 55.3 L606.5 55.7 L605.5 57.2 L598 57.2 L592 55 Z" fill="#e6a7a2" stroke="#cf8c86" stroke-width="0.4"/>
<ellipse cx="598.8" cy="23.6" rx="3.3" ry="2.7" fill="#e2dcd8" stroke="#bfb4ae" stroke-width="0.5"/>
<path d="M548 44 C550 39,554 33.5,559.2 29.8 C562 27.5,565.5 26.2,569 25.9 C575 25.5,580 26,585 26.3 C589 26.5,592 26.5,596 25.8 C601 25,606 25.5,610 28 C613 30,616 32,617.5 33.5 C616 36,612 38,607 40.5 C602 43,596 45.5,592.5 47.5 C591 50,590 52,588 53 C580 53.5,572 54,565 53.5 C558 53,553 51.5,550.5 48.5 C549 47,548.2 45.5,548 44 Z" fill="#e8e5e2" stroke="#cfc7bf" stroke-width="0.6"/>
<path d="M548.3 44 C550 39,554 33.5,559.2 29.8 C558.5 33,558.3 37,559.2 41.6 C561 44.5,564 45.3,567 45.2 C572 45,577 45.5,581 47 C585 48.5,588 49.5,590.8 49.3 C590 51,589 52.5,588 53 C580 53.5,572 54,565 53.5 C558 53,553 51.5,550.5 48.5 C549 47,548.4 45.5,548.3 44 Z" fill="#dad4cc"/>
<path d="M548.3 44 C550 39,554 33.5,559.2 29.8 C556 33,553 38,552 43 C551.5 46,552.5 49,554 51 C552 50.5,550.5 49.5,549.5 47.5 C548.7 46.5,548.4 45.3,548.3 44 Z" fill="#cbc1b4"/>
<circle cx="595.2" cy="29.8" r="4" fill="#e2c9c6" stroke="#c7a8a5" stroke-width="0.5"/>
<circle cx="595.4" cy="30.1" r="2.6" fill="#dfa7a5"/>
<circle cx="606.7" cy="31.9" r="0.9" fill="#b01818"/>
<circle cx="617.2" cy="33.6" r="1" fill="#e8a0a0"/>
<g transform="translate(510.4 30.8) rotate(30)">
<path d="M0 -2.2 L17.2 -2.2 L19.2 -1.2 L19.2 1.2 L17.2 2.2 L0 2.2 Z" fill="#cde6ef" stroke="#6f7f86" stroke-width="0.6"/>
<path d="M19.2 -1.3 L25 -0.8 L25 0.8 L19.2 1.3 Z" fill="#5bb595" stroke="#3f9075" stroke-width="0.3"/>
<line x1="25" y1="0" x2="37" y2="0" stroke="#555" stroke-width="0.8"/>
</g>
<!-- cup -->
<path d="M656.3 147.4 L657.6 172 C658 176.6,679 176.6,679.4 172 L681 147.4 Z" fill="#e3f3f5" stroke="#a89c9c" stroke-width="0.7"/>
<path d="M657 160 L657.6 172 C658 176.2,679 176.2,679.4 172 L680.3 160 Z" fill="#f3e18e"/>
<ellipse cx="668.65" cy="160.3" rx="11.6" ry="2.8" fill="#e9c685"/>
<path d="M657.6 172 C658 176.6,679 176.6,679.4 172" fill="none" stroke="#a89c9c" stroke-width="0.7"/>
<ellipse cx="668.65" cy="147.5" rx="12.3" ry="4" fill="#e3f3f5" stroke="#a89c9c" stroke-width="0.7"/>
<ellipse cx="668.65" cy="148.2" rx="11" ry="3" fill="none" stroke="#c5dadd" stroke-width="0.5"/>
<!-- faeces -->
<path d="M644 389 C645 385.5,649 385.5,652 387.5 C655 389.5,658 392.5,664 393.5 C670 394.5,675 396.5,674.5 400.5 C674 404,669 405,662 404.5 C655 404,650 402,647 399 C644.5 396.5,643 392,644 389 Z" fill="#b3abab" stroke="#8e8585" stroke-width="0.7"/>
<ellipse cx="0" cy="0" rx="7.9" ry="3.8" transform="translate(664.8 381.8) rotate(12)" fill="#b3abab" stroke="#8e8585" stroke-width="0.7"/>
<ellipse cx="0" cy="0" rx="4.3" ry="3.5" transform="translate(678.9 391.8) rotate(35)" fill="#b3abab" stroke="#8e8585" stroke-width="0.7"/>

</svg>
</body></html>
